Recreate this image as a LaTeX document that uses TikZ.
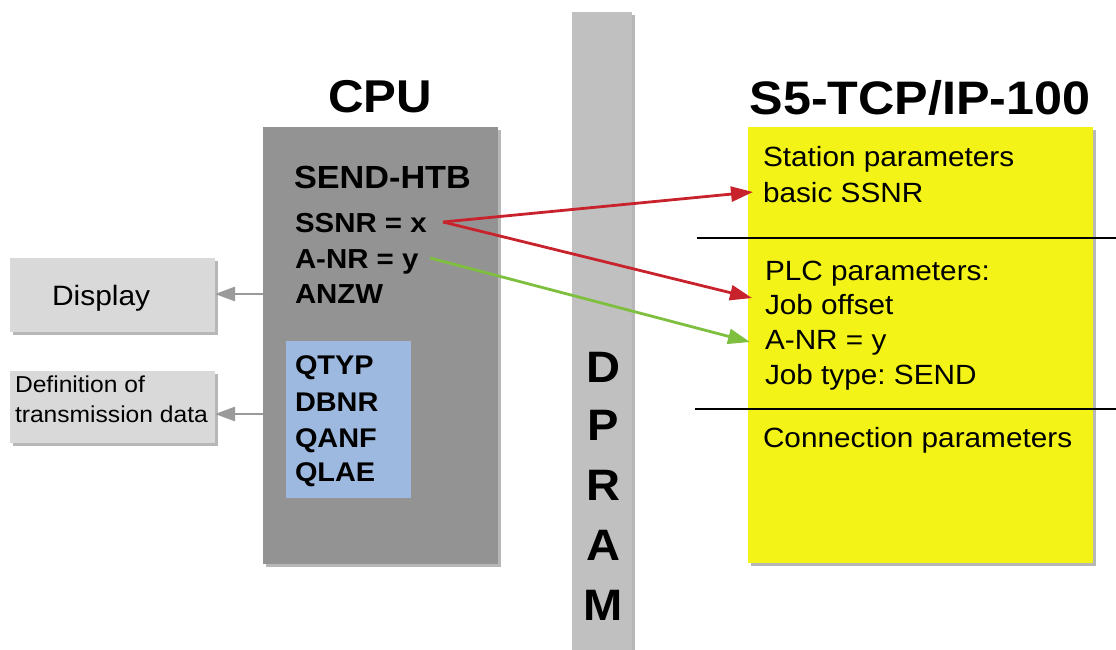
\documentclass[tikz,border=0pt]{standalone}
\usepackage{fontspec}
\setmainfont{Liberation Sans}[FakeStretch=1.07]
\usetikzlibrary{arrows.meta,shadows}
\definecolor{cpugray}{HTML}{939393}
\definecolor{bluebox}{HTML}{9DB9E0}
\definecolor{dispgray}{HTML}{D9D9D9}
\definecolor{dpgray}{HTML}{C0C0C0}
\definecolor{yel}{HTML}{F3F318}
\definecolor{arrred}{HTML}{C8232C}
\definecolor{arrgreen}{HTML}{7FBF3F}
\definecolor{arrgray}{HTML}{9A9A9A}
\frenchspacing
\begin{document}
\begin{tikzpicture}[x=1pt,y=-1pt,
  shad/.style={drop shadow={shadow xshift=3pt,shadow yshift=-3pt,opacity=0.4,fill=black!70}},
  boxnode/.style={anchor=north west,inner sep=0pt,outer sep=0pt},
  lbl/.style={anchor=base west,inner sep=0pt,outer sep=0pt},
  ctr/.style={anchor=base,inner sep=0pt,outer sep=0pt},
  titlefont/.style={font=\bfseries\fontsize{46}{46}\selectfont},
  cpufont/.style={font=\bfseries\fontsize{27.5}{30}\selectfont},
  qfont/.style={font=\bfseries\fontsize{27}{30}\selectfont},
  yfont/.style={font=\fontsize{27.8}{30}\selectfont},
  dpfont/.style={font=\bfseries\fontsize{44}{44}\selectfont},
  redarr/.style={draw=arrred,line width=2.8pt,-{Triangle[length=22pt,width=15pt]}},
  greenarr/.style={draw=arrgreen,line width=2.8pt,-{Triangle[length=22pt,width=15pt]}},
  grayarr/.style={draw=arrgray,line width=2.8pt,-{Triangle[length=20pt,width=14pt]}},
  sepline/.style={draw=black,line width=2.8pt}
]
\useasboundingbox (0,0) rectangle (1116,650);

% boxes
\node[boxnode,shad,fill=cpugray,minimum width=235pt,minimum height=437pt] (cpu) at (263,127) {};
\node[boxnode,fill=bluebox,minimum width=125pt,minimum height=157pt] (blue) at (286,341) {};
\node[boxnode,shad,fill=dispgray,minimum width=205pt,minimum height=74pt] (disp) at (10,258) {};
\node[boxnode,shad,fill=dispgray,minimum width=205pt,minimum height=72pt] (defn) at (10,371) {};
\node[boxnode,shad,fill=dpgray,minimum width=60pt,minimum height=650pt] (dpram) at (572,12) {};
\node[boxnode,shad,fill=yel,minimum width=345pt,minimum height=436pt] (s5) at (748,127) {};

% titles
\node[ctr,titlefont] (cputitle) at (380,113) {CPU};
\node[ctr,font=\bfseries\fontsize{47}{47}\selectfont] (s5title) at (920,115) {S5-TCP/IP-100};

% CPU texts
\node[lbl,font=\bfseries\fontsize{32}{34}\selectfont] (sendhtb) at (294,188) {SEND-HTB};
\node[lbl,cpufont] (ssnr) at (295,232) {SSNR = x};
\node[lbl,cpufont] (anr) at (295,268) {A-NR = y};
\node[lbl,cpufont] (anzw) at (295,303) {ANZW};
\node[lbl,qfont] (qtyp) at (295,374) {QTYP};
\node[lbl,qfont] (dbnr) at (295,411) {DBNR};
\node[lbl,qfont] (qanf) at (295,447) {QANF};
\node[lbl,qfont] (qlae) at (295,481) {QLAE};

% left boxes texts
\node[lbl,font=\fontsize{28}{30}\selectfont] (disptxt) at (52,305) {Display};
\node[lbl,font=\fontsize{23}{25}\selectfont] (deftxt1) at (15,392) {Definition of};
\node[lbl,font=\fontsize{23}{25}\selectfont] (deftxt2) at (15,422) {transmission data};

% DPRAM letters
\node[ctr,dpfont] (dpD) at (603,382) {D};
\node[ctr,dpfont] (dpP) at (603,440) {P};
\node[ctr,dpfont] (dpR) at (603,500) {R};
\node[ctr,dpfont] (dpA) at (603,560) {A};
\node[ctr,dpfont] (dpM) at (603,620) {M};

% yellow texts
\node[lbl,yfont] (st1) at (763,166) {Station parameters};
\node[lbl,yfont] (st2) at (763,202) {basic SSNR};
\node[lbl,yfont] (plc1) at (765,280) {PLC parameters:};
\node[lbl,yfont] (plc2) at (765,314) {Job offset};
\node[lbl,yfont] (plc3) at (765,349) {A-NR = y};
\node[lbl,yfont] (plc4) at (765,384) {Job type: SEND};
\node[lbl,yfont] (conn) at (763,447) {Connection parameters};

% separator lines
\coordinate (l1a) at (697,238);
\coordinate (l1b) at (1116,238);
\coordinate (l2a) at (695,409);
\coordinate (l2b) at (1116,409);
\draw[sepline] (l1a) -- (l1b);
\draw[sepline] (l2a) -- (l2b);

% arrows
\coordinate (sx) at (443,222);
\coordinate (ay) at (430,258);
\coordinate (t1) at (753,192);
\coordinate (t2) at (752,298);
\coordinate (t3) at (750,342);
\draw[redarr] (sx) -- (t1);
\draw[redarr] (sx) -- (t2);
\draw[greenarr] (ay) -- (t3);

\coordinate (g1) at (215,294);
\coordinate (g2) at (215,414);
\draw[grayarr] (cpu.west |- g1) -- (g1);
\draw[grayarr] (cpu.west |- g2) -- (g2);
\end{tikzpicture}
\end{document}
